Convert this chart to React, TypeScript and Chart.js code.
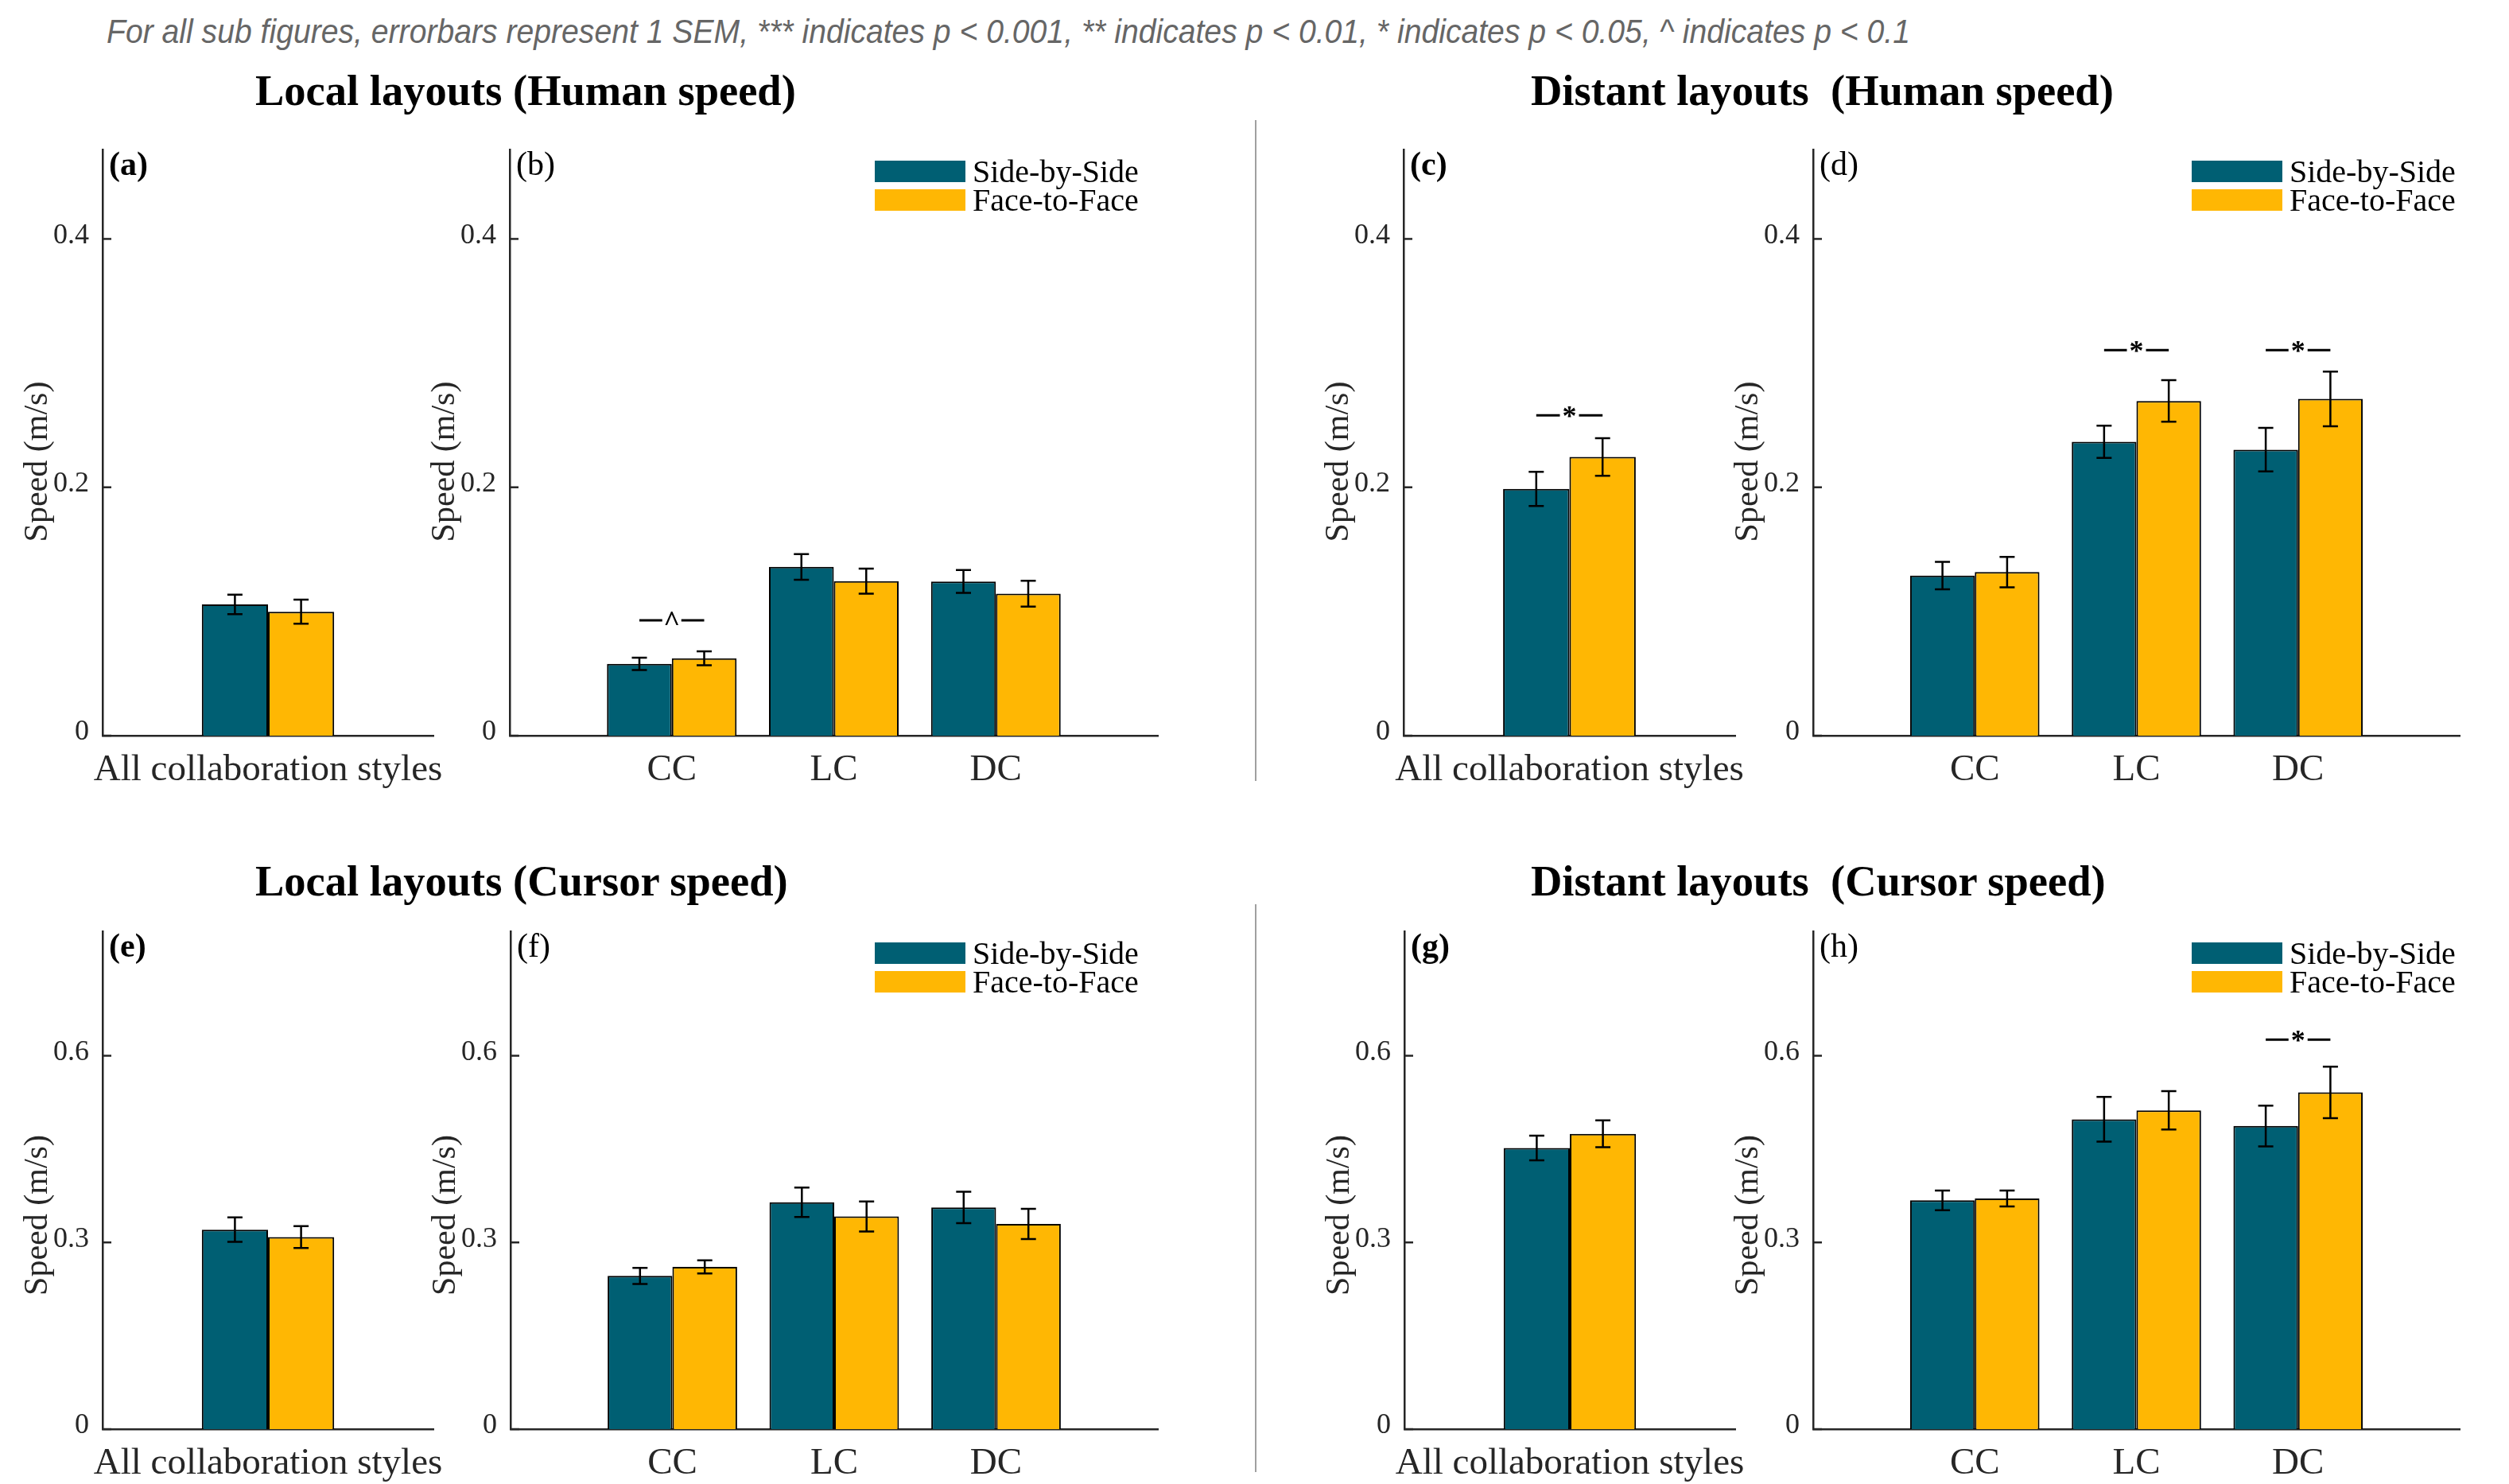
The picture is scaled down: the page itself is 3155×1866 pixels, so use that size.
import React, { useEffect, useRef } from 'react';
import { Chart, registerables } from 'chart.js';

Chart.register(...registerables);

// ---------------- data ----------------
const SERIES_NAMES = ['Side-by-Side', 'Face-to-Face'];
const SERIES_COLORS = ['#005F73', '#FFB703'];

const ALL_STYLES = ['All collaboration styles'];
const STYLES = ['CC', 'LC', 'DC'];

const HUMAN_TICKS = [0, 0.2, 0.4];
const HUMAN_TICK_LABELS = ['0', '0.2', '0.4'];
const HUMAN_MAX = 0.472;
const CURSOR_TICKS = [0, 0.3, 0.6];
const CURSOR_TICK_LABELS = ['0', '0.3', '0.6'];
const CURSOR_MAX = 0.8;

// (a) local, human speed, all styles
const A_SBS = [0.1057];
const A_SBS_ERR = [0.0078];
const A_FTF = [0.0998];
const A_FTF_ERR = [0.0097];
// (b) local, human speed, per style
const B_SBS = [0.0578, 0.1359, 0.1241];
const B_SBS_ERR = [0.005, 0.0103, 0.0092];
const B_FTF = [0.0623, 0.1244, 0.1143];
const B_FTF_ERR = [0.0056, 0.0101, 0.0104];
// (c) distant, human speed, all styles
const C_SBS = [0.1987];
const C_SBS_ERR = [0.0138];
const C_FTF = [0.2244];
const C_FTF_ERR = [0.0151];
// (d) distant, human speed, per style
const D_SBS = [0.1289, 0.2366, 0.2303];
const D_SBS_ERR = [0.0111, 0.013, 0.0175];
const D_FTF = [0.1317, 0.2695, 0.2712];
const D_FTF_ERR = [0.0122, 0.0167, 0.022];
// (e) local, cursor speed, all styles
const E_SBS = [0.3206];
const E_SBS_ERR = [0.0198];
const E_FTF = [0.3086];
const E_FTF_ERR = [0.0177];
// (f) local, cursor speed, per style
const F_SBS = [0.2462, 0.3646, 0.3562];
const F_SBS_ERR = [0.0129, 0.0237, 0.0252];
const F_FTF = [0.2607, 0.3417, 0.3297];
const F_FTF_ERR = [0.0105, 0.024, 0.0243];
// (g) distant, cursor speed, all styles
const G_SBS = [0.4517];
const G_SBS_ERR = [0.0198];
const G_FTF = [0.4745];
const G_FTF_ERR = [0.0216];
// (h) distant, cursor speed, per style
const H_SBS = [0.3676, 0.4979, 0.4871];
const H_SBS_ERR = [0.0159, 0.036, 0.0327];
const H_FTF = [0.3706, 0.5123, 0.5411];
const H_FTF_ERR = [0.0129, 0.0309, 0.0414];

// significance markers
const B_SIG = [{ category: 'CC', mark: '^', level: 0.0929 }];
const C_SIG = [{ category: 'All collaboration styles', mark: '*', level: 0.258 }];
const D_SIG = [
  { category: 'LC', mark: '*', level: 0.3105 },
  { category: 'DC', mark: '*', level: 0.3105 },
];
const H_SIG = [{ category: 'DC', mark: '*', level: 0.6258 }];

const NOTE =
  'For all sub figures, errorbars represent 1 SEM, *** indicates p < 0.001, ** indicates p < 0.01, * indicates p < 0.05, ^ indicates p < 0.1';
const HEADERS = [
  'Local layouts (Human speed)',
  'Distant layouts  (Human speed)',
  'Local layouts (Cursor speed)',
  'Distant layouts  (Cursor speed)',
];
const Y_TITLE = 'Speed (m/s)';

// ---------------- layout ----------------
const SERIF = '"Liberation Serif", "Times New Roman", serif';
const Y_SCALE_W = 110;
const X_SCALE_H = 80;
const PAD_TOP = 12;
const PAD_RIGHT = 20;
const HEADER_SIZE = 54.5;

type Sig = { category: string; mark: string; level: number };
type Spec = {
  tag: string;
  tagBold: boolean;
  cats: string[];
  sbs: number[];
  sbsErr: number[];
  ftf: number[];
  ftfErr: number[];
  ticks: number[];
  tickLabels: string[];
  max: number;
  sig: Sig[];
  legendRight: number | null;
  xA: number;
  xB: number;
  yT: number;
  yB: number;
  titleShift: number;
};

const ROW_TOP = { yT: 188, yB: 925, titleShift: 24 };
const ROW_BOT = { yT: 1171, yB: 1797, titleShift: 44 };

const PANELS: Spec[] = [
  { tag: '(a)', tagBold: true, cats: ALL_STYLES, sbs: A_SBS, sbsErr: A_SBS_ERR, ftf: A_FTF, ftfErr: A_FTF_ERR, ticks: HUMAN_TICKS, tickLabels: HUMAN_TICK_LABELS, max: HUMAN_MAX, sig: [], legendRight: null, xA: 129, xB: 545, ...ROW_TOP },
  { tag: '(b)', tagBold: false, cats: STYLES, sbs: B_SBS, sbsErr: B_SBS_ERR, ftf: B_FTF, ftfErr: B_FTF_ERR, ticks: HUMAN_TICKS, tickLabels: HUMAN_TICK_LABELS, max: HUMAN_MAX, sig: B_SIG, legendRight: 356, xA: 641, xB: 1456, ...ROW_TOP },
  { tag: '(c)', tagBold: true, cats: ALL_STYLES, sbs: C_SBS, sbsErr: C_SBS_ERR, ftf: C_FTF, ftfErr: C_FTF_ERR, ticks: HUMAN_TICKS, tickLabels: HUMAN_TICK_LABELS, max: HUMAN_MAX, sig: C_SIG, legendRight: null, xA: 1765, xB: 2182, ...ROW_TOP },
  { tag: '(d)', tagBold: false, cats: STYLES, sbs: D_SBS, sbsErr: D_SBS_ERR, ftf: D_FTF, ftfErr: D_FTF_ERR, ticks: HUMAN_TICKS, tickLabels: HUMAN_TICK_LABELS, max: HUMAN_MAX, sig: D_SIG, legendRight: 337, xA: 2280, xB: 3093, ...ROW_TOP },
  { tag: '(e)', tagBold: true, cats: ALL_STYLES, sbs: E_SBS, sbsErr: E_SBS_ERR, ftf: E_FTF, ftfErr: E_FTF_ERR, ticks: CURSOR_TICKS, tickLabels: CURSOR_TICK_LABELS, max: CURSOR_MAX, sig: [], legendRight: null, xA: 129, xB: 545, ...ROW_BOT },
  { tag: '(f)', tagBold: false, cats: STYLES, sbs: F_SBS, sbsErr: F_SBS_ERR, ftf: F_FTF, ftfErr: F_FTF_ERR, ticks: CURSOR_TICKS, tickLabels: CURSOR_TICK_LABELS, max: CURSOR_MAX, sig: [], legendRight: 356, xA: 642, xB: 1456, ...ROW_BOT },
  { tag: '(g)', tagBold: true, cats: ALL_STYLES, sbs: G_SBS, sbsErr: G_SBS_ERR, ftf: G_FTF, ftfErr: G_FTF_ERR, ticks: CURSOR_TICKS, tickLabels: CURSOR_TICK_LABELS, max: CURSOR_MAX, sig: [], legendRight: null, xA: 1766, xB: 2182, ...ROW_BOT },
  { tag: '(h)', tagBold: false, cats: STYLES, sbs: H_SBS, sbsErr: H_SBS_ERR, ftf: H_FTF, ftfErr: H_FTF_ERR, ticks: CURSOR_TICKS, tickLabels: CURSOR_TICK_LABELS, max: CURSOR_MAX, sig: H_SIG, legendRight: 337, xA: 2280, xB: 3093, ...ROW_BOT },
];

const pad = (arr: any[], fill: any) => [fill, ...arr, fill];

// ---------------- plugin: y title, error bars, inward ticks, significance, tag, legend ----------------
const decorPlugin = {
  id: 'decor',
  afterDraw(chart: any, _args: any, opts: any) {
    const ctx = chart.ctx;
    const area = chart.chartArea;
    const ys = chart.scales.y;
    ctx.save();

    // y-axis title (MATLAB places it slightly below the axis middle)
    ctx.save();
    ctx.translate(area.left - 81, (area.top + area.bottom) / 2 + opts.titleShift);
    ctx.rotate(-Math.PI / 2);
    ctx.fillStyle = '#262626';
    ctx.font = '42px ' + SERIF;
    ctx.textAlign = 'center';
    ctx.textBaseline = 'middle';
    ctx.fillText(opts.yTitle, 0, 0);
    ctx.restore();

    // inward y tick marks
    ctx.strokeStyle = '#262626';
    ctx.lineWidth = 2.5;
    ys.ticks.forEach((t: any) => {
      const py = ys.getPixelForValue(t.value);
      ctx.beginPath();
      ctx.moveTo(area.left, py);
      ctx.lineTo(area.left + 11, py);
      ctx.stroke();
    });

    // error bars
    ctx.strokeStyle = '#000';
    ctx.lineWidth = 2.5;
    chart.data.datasets.forEach((ds: any, di: number) => {
      const meta = chart.getDatasetMeta(di);
      meta.data.forEach((bar: any, i: number) => {
        const v = ds.data[i];
        const e = ds.errors ? ds.errors[i] : null;
        if (v == null || e == null) return;
        const x = bar.x;
        const t = ys.getPixelForValue(v + e);
        const b = ys.getPixelForValue(v - e);
        ctx.beginPath();
        ctx.moveTo(x, t);
        ctx.lineTo(x, b);
        ctx.moveTo(x - 9.5, t);
        ctx.lineTo(x + 9.5, t);
        ctx.moveTo(x - 9.5, b);
        ctx.lineTo(x + 9.5, b);
        ctx.stroke();
      });
    });

    // significance markers
    (opts.sig || []).forEach((s: any) => {
      const idx = chart.data.labels.indexOf(s.category);
      if (idx < 0) return;
      const x0 = chart.getDatasetMeta(0).data[idx].x;
      const x1 = chart.getDatasetMeta(1).data[idx].x;
      const mid = (x0 + x1) / 2;
      const py = ys.getPixelForValue(s.level);
      ctx.strokeStyle = '#000';
      ctx.lineWidth = 3;
      ctx.beginPath();
      ctx.moveTo(x0, py);
      ctx.lineTo(mid - 12, py);
      ctx.moveTo(mid + 12, py);
      ctx.lineTo(x1, py);
      ctx.stroke();
      ctx.fillStyle = '#000';
      ctx.font = 'bold 36px ' + SERIF;
      ctx.textAlign = 'center';
      ctx.textBaseline = 'alphabetic';
      ctx.fillText(s.mark, mid, py + 13);
    });

    // panel tag
    ctx.fillStyle = '#000';
    ctx.font = (opts.tagBold ? 'bold ' : '') + '42px ' + SERIF;
    ctx.textAlign = 'left';
    ctx.textBaseline = 'alphabetic';
    ctx.fillText(opts.tag, area.left + 8, area.top + 32);

    // legend
    if (opts.legendRight != null) {
      const bx = area.right - opts.legendRight;
      const tops = [area.top + 14, area.top + 50];
      ctx.font = '40px ' + SERIF;
      chart.data.datasets.forEach((ds: any, di: number) => {
        const by = tops[di];
        ctx.fillStyle = ds.backgroundColor;
        ctx.fillRect(bx, by, 114, 27);
        ctx.fillStyle = '#000';
        ctx.fillText(ds.label, bx + 123, by + 27);
      });
    }
    ctx.restore();
  },
};

function BarPanel({ spec }: { spec: Spec }) {
  const ref = useRef<HTMLCanvasElement>(null);
  const left = spec.xA - Y_SCALE_W;
  const top = spec.yT - PAD_TOP;
  const width = spec.xB - left + PAD_RIGHT;
  const height = spec.yB - spec.yT + PAD_TOP + X_SCALE_H;

  useEffect(() => {
    const chart = new Chart(ref.current as HTMLCanvasElement, {
      type: 'bar',
      data: {
        labels: pad(spec.cats, ''),
        datasets: [
          {
            label: SERIES_NAMES[0],
            data: pad(spec.sbs, null),
            errors: pad(spec.sbsErr, null),
            backgroundColor: SERIES_COLORS[0],
            borderColor: '#000',
            borderWidth: 2,
            borderSkipped: 'bottom',
            categoryPercentage: 0.8,
            barPercentage: 1.0,
          } as any,
          {
            label: SERIES_NAMES[1],
            data: pad(spec.ftf, null),
            errors: pad(spec.ftfErr, null),
            backgroundColor: SERIES_COLORS[1],
            borderColor: '#000',
            borderWidth: 2,
            borderSkipped: 'bottom',
            categoryPercentage: 0.8,
            barPercentage: 1.0,
          } as any,
        ],
      },
      options: {
        animation: false,
        responsive: false,
        devicePixelRatio: 1,
        layout: { padding: { top: PAD_TOP, right: PAD_RIGHT, left: 0, bottom: 0 } },
        font: { family: SERIF },
        scales: {
          x: {
            type: 'category',
            offset: false,
            grid: { display: false, drawTicks: false },
            border: { display: true, color: '#262626', width: 2.5 },
            ticks: {
              autoSkip: false,
              maxRotation: 0,
              minRotation: 0,
              padding: 15,
              color: '#262626',
              font: { family: SERIF, size: 47 },
            },
            afterFit: (s: any) => {
              s.height = X_SCALE_H;
              s.paddingLeft = 0;
              s.paddingRight = 0;
            },
          },
          y: {
            type: 'linear',
            min: 0,
            max: spec.max,
            grid: { display: false, drawTicks: false },
            border: { display: true, color: '#262626', width: 2.5 },
            afterBuildTicks: (s: any) => {
              s.ticks = spec.ticks.map((v) => ({ value: v }));
            },
            ticks: {
              padding: 17,
              labelOffset: -4,
              color: '#262626',
              font: { family: SERIF, size: 36 },
              callback: (_v: any, i: number) => spec.tickLabels[i],
            },
            title: { display: false, text: Y_TITLE },
            afterFit: (s: any) => {
              s.width = Y_SCALE_W;
              s.paddingTop = 0;
              s.paddingBottom = 0;
            },
          },
        },
        plugins: {
          legend: { display: false },
          tooltip: { enabled: false },
          decor: {
            tag: spec.tag,
            tagBold: spec.tagBold,
            sig: spec.sig,
            legendRight: spec.legendRight,
            yTitle: Y_TITLE,
            titleShift: spec.titleShift,
          },
        } as any,
      },
      plugins: [decorPlugin as any],
    } as any);
    return () => chart.destroy();
  }, []);

  return (
    <canvas
      ref={ref}
      width={width}
      height={height}
      style={{ position: 'absolute', left, top, width, height, display: 'block' }}
    />
  );
}

function measure(text: string, font: string) {
  const c = document.createElement('canvas').getContext('2d');
  if (!c) return 1;
  c.font = font;
  return c.measureText(text).width || 1;
}

export default function App() {
  const noteFont = 'italic 42px "Liberation Sans", Arial, sans-serif';
  const noteW = 2268;
  const noteScale = noteW / measure(NOTE, noteFont);
  const headerStyle = (left: number, baseline: number): React.CSSProperties => ({
    position: 'absolute',
    left,
    top: baseline - 0.8375 * HEADER_SIZE,
    font: `bold ${HEADER_SIZE}px ` + SERIF,
    lineHeight: 1,
    whiteSpace: 'pre',
    color: '#000',
  });
  return (
    <div
      style={{
        position: 'absolute',
        left: 0,
        top: 0,
        width: 3155,
        height: 1866,
        overflow: 'hidden',
        background: '#fff',
      }}
    >
      <div
        style={{
          position: 'absolute',
          left: 134,
          top: 55 - 0.8465 * 42,
          font: noteFont,
          lineHeight: 1,
          whiteSpace: 'pre',
          color: '#666666',
          transform: `scaleX(${noteScale})`,
          transformOrigin: '0 0',
        }}
      >
        {NOTE}
      </div>
      <div style={headerStyle(321, 133)}>{HEADERS[0]}</div>
      <div style={headerStyle(1925, 133)}>{HEADERS[1]}</div>
      <div style={headerStyle(321, 1127)}>{HEADERS[2]}</div>
      <div style={headerStyle(1925, 1127)}>{HEADERS[3]}</div>
      <div style={{ position: 'absolute', left: 1578, top: 151, width: 2, height: 831, background: '#a0a0a0' }} />
      <div style={{ position: 'absolute', left: 1578, top: 1137, width: 2, height: 714, background: '#a0a0a0' }} />
      {PANELS.map((p) => (
        <BarPanel key={p.tag} spec={p} />
      ))}
    </div>
  );
}
